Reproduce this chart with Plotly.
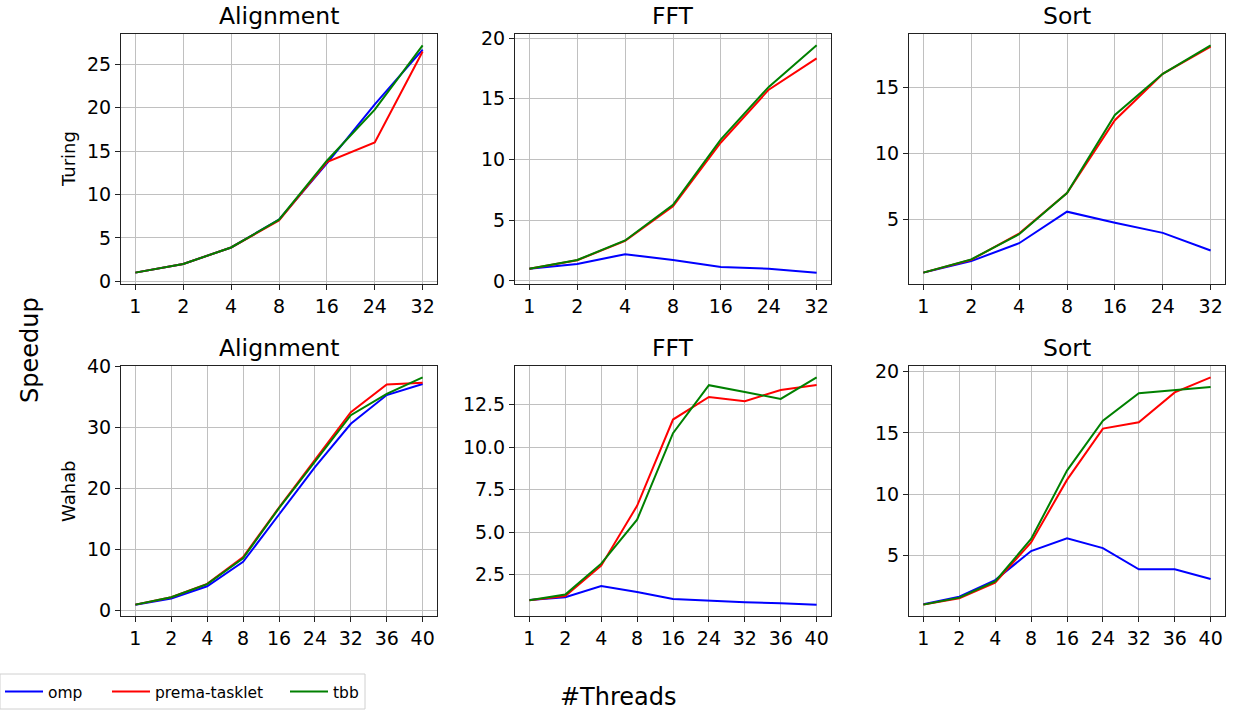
import plotly.graph_objects as go

threads_turing = ["1", "2", "4", "8", "16", "24", "32"]
threads_wahab = ["1", "2", "4", "8", "16", "24", "32", "36", "40"]

# Turing
turing_align_omp = [1.0, 2.0, 3.9, 7.1, 13.6, 20.4, 26.7]
turing_align_prema = [1.0, 2.0, 3.9, 7.0, 13.75, 16.0, 26.5]
turing_align_tbb = [1.0, 2.0, 3.9, 7.1, 13.9, 19.8, 27.2]

turing_fft_omp = [1.0, 1.4, 2.2, 1.72, 1.15, 1.0, 0.68]
turing_fft_prema = [1.0, 1.7, 3.3, 6.15, 11.4, 15.75, 18.33]
turing_fft_tbb = [1.0, 1.72, 3.33, 6.27, 11.65, 15.98, 19.4]

turing_sort_omp = [1.0, 1.87, 3.22, 5.6, 4.77, 4.0, 2.67]
turing_sort_prema = [1.0, 1.97, 3.95, 7.0, 12.5, 16.0, 18.06]
turing_sort_tbb = [1.0, 2.0, 3.9, 7.0, 12.9, 16.0, 18.15]

# Wahab
wahab_align_omp = [1.0, 2.0, 4.0, 8.0, 15.75, 23.5, 30.6, 35.3, 37.1]
wahab_align_prema = [1.0, 2.2, 4.4, 8.8, 16.9, 24.6, 32.5, 37.05, 37.3]
wahab_align_tbb = [1.0, 2.2, 4.36, 8.6, 16.8, 24.5, 32.0, 35.5, 38.2]

wahab_fft_omp = [1.01, 1.17, 1.83, 1.48, 1.07, 0.97, 0.88, 0.82, 0.74]
wahab_fft_prema = [1.0, 1.25, 3.03, 6.55, 11.62, 12.95, 12.7, 13.36, 13.65]
wahab_fft_tbb = [1.0, 1.33, 3.15, 5.73, 10.82, 13.64, 13.24, 12.83, 14.1]

wahab_sort_omp = [1.03, 1.65, 3.0, 5.37, 6.4, 5.61, 3.88, 3.88, 3.09]
wahab_sort_prema = [1.0, 1.52, 2.79, 6.07, 11.17, 15.35, 15.87, 18.3, 19.53]
wahab_sort_tbb = [1.0, 1.57, 2.9, 6.35, 11.93, 16.0, 18.23, 18.5, 18.74]

series_names = ["omp", "prema-tasklet", "tbb"]
colors = ["#0000ff", "#ff0000", "#008000"]
titles = ["Alignment", "FFT", "Sort"]

panels = [
    (threads_turing, [turing_align_omp, turing_align_prema, turing_align_tbb]),
    (threads_turing, [turing_fft_omp, turing_fft_prema, turing_fft_tbb]),
    (threads_turing, [turing_sort_omp, turing_sort_prema, turing_sort_tbb]),
    (threads_wahab, [wahab_align_omp, wahab_align_prema, wahab_align_tbb]),
    (threads_wahab, [wahab_fft_omp, wahab_fft_prema, wahab_fft_tbb]),
    (threads_wahab, [wahab_sort_omp, wahab_sort_prema, wahab_sort_tbb]),
]

# layout in pixels
W, H = 1233, 710
ML, MR, MT, MB = 121, 8, 34, 94
PW, PH = W - ML - MR, H - MT - MB
col_px = [(121, 437), (515, 831), (909, 1225)]
row_px = [(34, 284), (366, 616)]

def xdom(c):
    a, b = col_px[c]
    return [(a - ML) / PW, (b - ML) / PW]

def ydom(r):
    a, b = row_px[r]
    return [(H - MB - b) / PH, (H - MB - a) / PH]

def px_to_paper(xp, yp):
    return (xp - ML) / PW, (H - MB - yp) / PH

fig = go.Figure()
FONT = "DejaVu Sans, Liberation Sans, sans-serif"

ytick_cfg = [
    dict(tick0=0, dtick=5),
    dict(tick0=0, dtick=5),
    dict(tick0=0, dtick=5),
    dict(tick0=0, dtick=10),
    dict(tick0=0, dtick=2.5, tickformat=".1f"),
    dict(tick0=0, dtick=5),
]

def data_range(vals):
    lo = min(min(v) for v in vals)
    hi = max(max(v) for v in vals)
    pad = (hi - lo) * 0.05
    return [lo - pad, hi + pad]

legend_ids = ["legend", "legend2", "legend3"]

for i, (xs, ys) in enumerate(panels):
    r, c = divmod(i, 3)
    n = i + 1
    xa = "x" if n == 1 else f"x{n}"
    ya = "y" if n == 1 else f"y{n}"
    for k in range(3):
        fig.add_trace(go.Scatter(
            x=xs, y=ys[k], mode="lines", name=series_names[k],
            line=dict(color=colors[k], width=2),
            xaxis=xa, yaxis=ya, showlegend=(i == 0), legend=legend_ids[k],
        ))
    axis_common = dict(
        showline=True, linecolor="#222222", linewidth=1, mirror=True,
        showgrid=True, gridcolor="#c0c0c0", gridwidth=1, zeroline=False,
        ticks="outside", ticklen=5, tickcolor="#222222",
        tickfont=dict(size=19, color="black", family=FONT),
        automargin=False,
    )
    nx = len(xs)
    fig.layout[f"xaxis{'' if n == 1 else n}"] = dict(
        axis_common, domain=xdom(c), anchor=ya, type="category",
        range=[-0.05 * (nx - 1), (nx - 1) * 1.05],
    )
    fig.layout[f"yaxis{'' if n == 1 else n}"] = dict(
        axis_common, domain=ydom(r), anchor=xa,
        range=data_range(ys), **ytick_cfg[i],
    )

annotations = []
for i in range(6):
    r, c = divmod(i, 3)
    a, b = col_px[c]
    annotations.append(dict(
        text=titles[c], xref="paper", yref="paper",
        x=((a + b) / 2 - ML) / PW, y=(H - MB - (row_px[r][0] - 18)) / PH,
        xanchor="center", yanchor="middle", showarrow=False,
        font=dict(size=23.5, color="black", family=FONT),
    ))

for text, xp, yp, size in [("Turing", 68, 159, 18), ("Wahab", 68, 491, 18), ("Speedup", 30, 350, 24)]:
    x, y = px_to_paper(xp, yp)
    annotations.append(dict(text=text, xref="paper", yref="paper", x=x, y=y,
                            xanchor="center", yanchor="middle", textangle=-90,
                            showarrow=False, font=dict(size=size, color="black", family=FONT)))
x, y = px_to_paper(618, 697)
annotations.append(dict(text="#Threads", xref="paper", yref="paper", x=x, y=y,
                        xanchor="center", yanchor="middle", showarrow=False,
                        font=dict(size=24, color="black", family=FONT)))

# legend frame
bx0, by0 = px_to_paper(0, 674)
bx1, by1 = px_to_paper(365, 709)
fig.add_shape(type="rect", xref="paper", yref="paper", x0=bx0, y0=by1, x1=bx1, y1=by0,
              line=dict(color="#d0d0d0", width=1), fillcolor="rgba(255,255,255,0.8)", layer="below")

legend_common = dict(orientation="h", xanchor="left", yanchor="middle",
                     bgcolor="rgba(0,0,0,0)", borderwidth=0,
                     font=dict(size=15.5, color="black", family=FONT), itemwidth=38)
leg_y = px_to_paper(0, 692)[1]
# item line start pixel positions: 5, 112, 290
leg_layout = {}
for k, startpx in enumerate([5, 112, 290]):
    lx = px_to_paper(startpx - 5, 0)[0]
    leg_layout[legend_ids[k]] = dict(legend_common, x=lx, y=leg_y)

fig.update_layout(
    width=W, height=H,
    margin=dict(l=ML, r=MR, t=MT, b=MB, autoexpand=False),
    paper_bgcolor="white", plot_bgcolor="white",
    annotations=annotations,
    font=dict(family=FONT, color="black"),
    **leg_layout,
)

fig.write_html("out.html")
